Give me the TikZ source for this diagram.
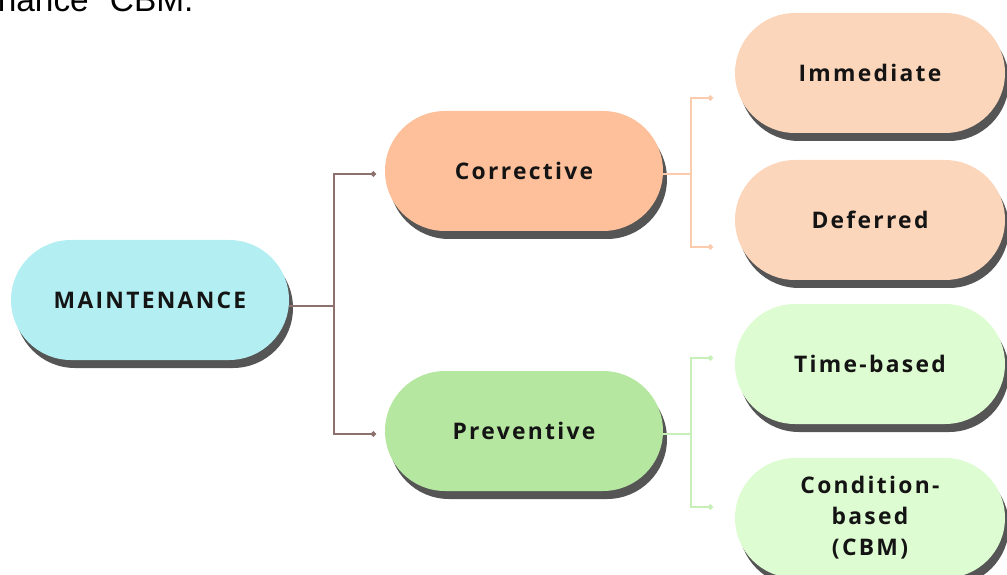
\documentclass[tikz,border=0pt]{standalone}
\usepackage{fontspec}
\setmainfont{Open Sans}
\newfontfamily\pillfont{Open Sans}[LetterSpace=10]
\newfontfamily\notefont{Liberation Sans}
\usetikzlibrary{shadows,arrows.meta}

\definecolor{mainfill}{HTML}{B3EFF2}
\definecolor{corfill}{HTML}{FDC09A}
\definecolor{prevfill}{HTML}{B6E7A0}
\definecolor{corsub}{HTML}{FCD6BB}
\definecolor{prevsub}{HTML}{DEFCD2}
\definecolor{shade}{HTML}{555555}
\definecolor{trunk}{HTML}{8C716C}
\definecolor{corline}{HTML}{FBCBAE}
\definecolor{prevline}{HTML}{C7EFB8}

\begin{document}
\begin{tikzpicture}
  \useasboundingbox (0,0) rectangle (20.14,11.48);
  \coordinate (X) at (0,0);

  % node styles
  \tikzstyle{Pill}=[
  shape=rectangle,rounded corners=1.2cm,
  minimum width=5.56cm,minimum height=2.4cm,
  inner sep=0pt,
  font=\pillfont\bfseries\fontsize{13}{17.6}\selectfont,
  text=black!92,
  align=center,
  drop shadow={shadow xshift=0.08cm,shadow yshift=-0.16cm,fill=shade,opacity=1}]

  \tikzstyle{Leaf}=[Pill,minimum width=5.4cm]

  \tikzstyle{Link}=[line width=1pt,-{Circle[length=3pt,width=3pt]}]

  % cut-off text at the top
  \node[anchor=base west,inner sep=0pt,font=\notefont\fontsize{19}{22}\selectfont] (N) at (-0.05,11.24) {nance "CBM.};

  \draw (X) node[Pill,fill=mainfill] (M) at +( 3.00, 5.48) {MAINTENANCE};

  \draw (X) node[Pill,fill= corfill] (C) at +(10.48, 8.06) {Corrective};
  \draw (X) node[Pill,fill=prevfill] (P) at +(10.48, 2.86) {Preventive};

  \draw (X) node[Leaf,fill= corsub] (I) at +(17.40,10.02) {Immediate};
  \draw (X) node[Leaf,fill= corsub] (D) at +(17.40, 7.08) {Deferred};
  \draw (X) node[Leaf,fill= prevsub] (T) at +(17.40, 4.20) {Time-based};
  \draw (X) node[Leaf,fill= prevsub] (B) at +(17.40, 1.12) {Condition-\\based\\(CBM)};

  % line ends
  \coordinate (Cin) at (7.52,8.00);
  \coordinate (Pin) at (7.52,2.80);
  \coordinate (Iin) at (14.26,9.52);
  \coordinate (Din) at (14.26,6.54);
  \coordinate (Tin) at (14.26,4.32);
  \coordinate (Bin) at (14.26,1.34);

  \draw[Link,draw=trunk] ([yshift=-0.12cm]M.east) -- ++(0.9,0) |- (Cin);
  \draw[Link,draw=trunk] ([yshift=-0.12cm]M.east) -- ++(0.9,0) |- (Pin);

  \draw[Link,draw=corline] ([yshift=-0.06cm]C.east) -- ++(0.56,0) |- (Iin);
  \draw[Link,draw=corline] ([yshift=-0.06cm]C.east) -- ++(0.56,0) |- (Din);

  \draw[Link,draw=prevline] ([yshift=-0.06cm]P.east) -- ++(0.56,0) |- (Tin);
  \draw[Link,draw=prevline] ([yshift=-0.06cm]P.east) -- ++(0.56,0) |- (Bin);

\end{tikzpicture}
\end{document}
